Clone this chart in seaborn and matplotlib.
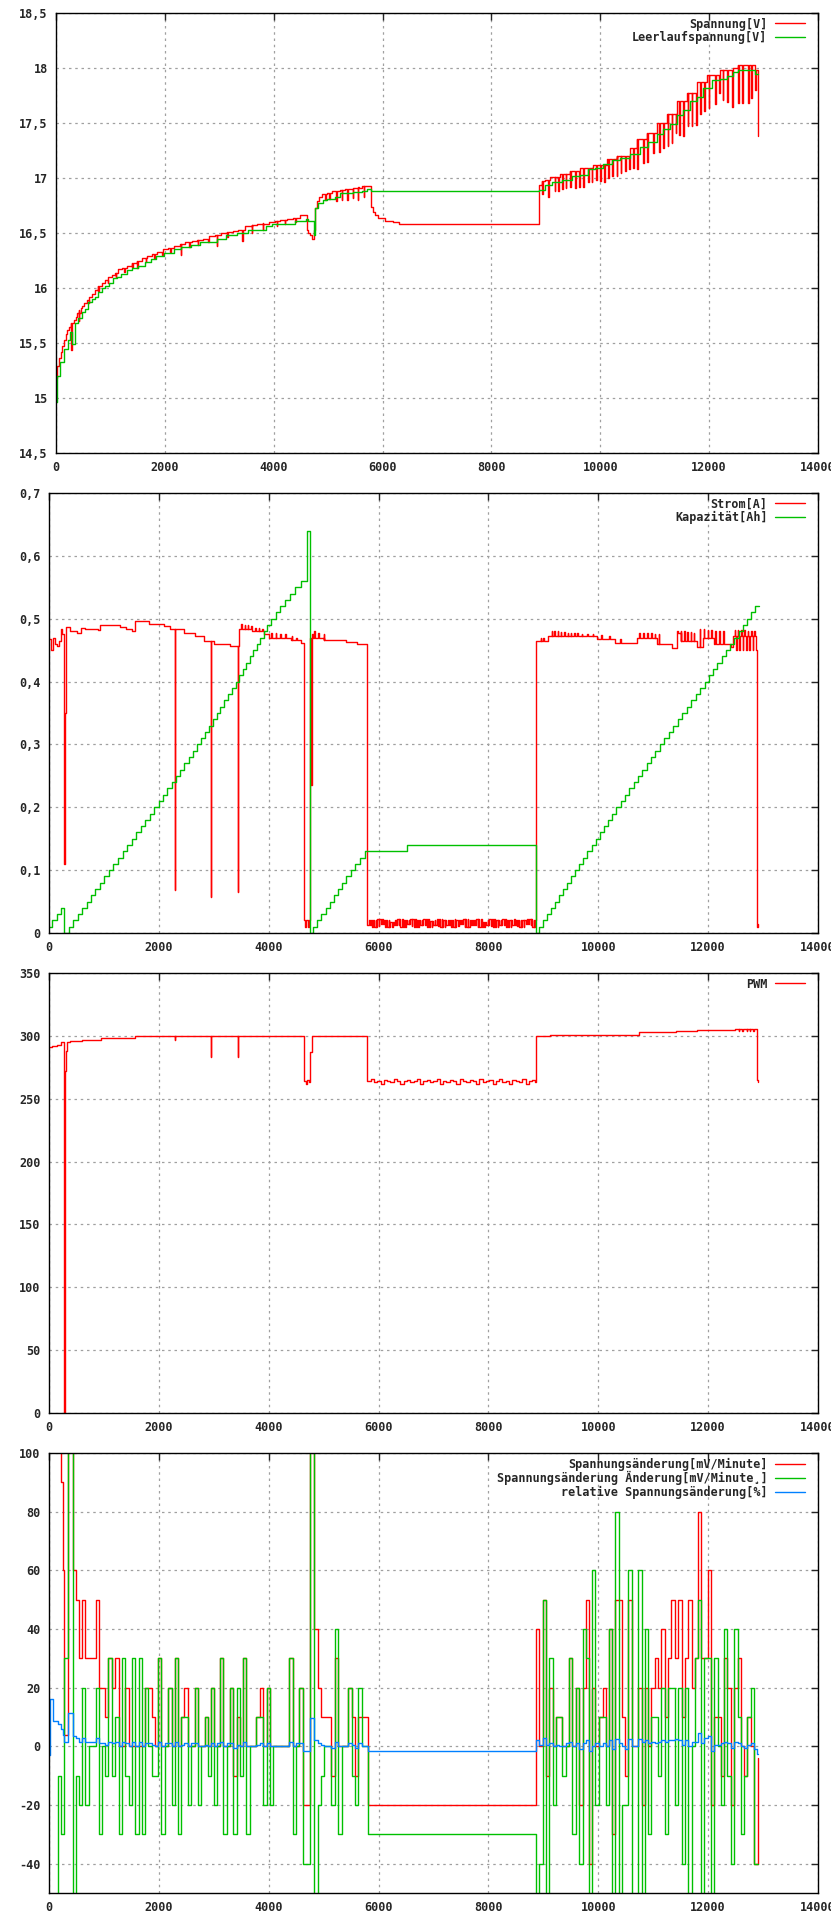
import numpy as np
import seaborn as sns
import matplotlib.pyplot as plt
from matplotlib.ticker import MultipleLocator, FuncFormatter

# ---------------- panel 1: voltage ----------------
volt_x = [0, 25, 55, 86, 117, 147, 178, 208, 239, 270,
          331, 362, 392, 423, 453, 484, 515, 564, 613, 656,
          717, 778, 839, 900, 962, 1023, 1084, 1145, 1207, 1299,
          1390, 1482, 1574, 1666, 1758, 1850, 1972, 2064, 2168, 2278,
          2370, 2493, 2585, 2707, 2817, 2921, 3025, 3136, 3246, 3350,
          3473, 3595, 3687, 3809, 3920, 4024, 4116, 4238, 4361, 4483,
          4618, 4636, 4667, 4697, 4734, 4759, 4789, 4826, 4881, 4973,
          5065, 5218, 5310, 5463, 5555, 5628, 5787, 5818, 5861, 5922,
          6050, 6200, 6300, 8880, 8935, 8984, 9076, 9260, 9444, 9627,
          9872, 10117, 10301, 10546, 10668, 10852, 11036, 11220, 11403, 11587,
          11771, 11954, 12199, 12444, 12536, 12842, 12904]
volt_y = [15.18, 15.29, 15.36, 15.42, 15.47, 15.53, 15.58, 15.62, 15.65, 15.68,
          15.71, 15.74, 15.77, 15.80, 15.82, 15.84, 15.86, 15.89, 15.92, 15.95,
          15.98, 16.02, 16.05, 16.07, 16.10, 16.12, 16.14, 16.17, 16.18, 16.20,
          16.23, 16.25, 16.27, 16.29, 16.31, 16.33, 16.35, 16.36, 16.38, 16.40,
          16.42, 16.43, 16.44, 16.45, 16.47, 16.48, 16.50, 16.51, 16.52, 16.53,
          16.56, 16.57, 16.58, 16.59, 16.60, 16.61, 16.62, 16.63, 16.64, 16.66,
          16.53, 16.50, 16.48, 16.45, 16.53, 16.73, 16.79, 16.83, 16.85, 16.86,
          16.88, 16.89, 16.90, 16.91, 16.915, 16.925, 16.74, 16.69, 16.66, 16.64,
          16.61, 16.60, 16.58, 16.94, 16.97, 16.985, 17.01, 17.04, 17.06, 17.09,
          17.12, 17.17, 17.20, 17.27, 17.35, 17.41, 17.50, 17.58, 17.70, 17.77,
          17.87, 17.94, 17.98, 18.00, 18.03, 17.98, 17.38]
# short downward dips of the loaded voltage
volt_spike_x = [282, 420, 600, 780, 950, 1100, 1250, 1400, 1494, 1650,
                1800, 1950, 2100, 2290, 2450, 2600, 2800, 2952, 3150, 3423,
                3600, 3800, 4054, 4200, 4400, 4950, 5022, 5150, 5250, 5350,
                5450, 5550, 5650,
                8935, 9046, 9162, 9229, 9303, 9364, 9444, 9535, 9615, 9689,
                9780, 9842, 9921, 9995, 10068, 10148, 10221, 10301, 10374, 10454,
                10528, 10607, 10681, 10791, 10864, 10975, 11085, 11158, 11238, 11311,
                11385, 11452, 11526, 11605, 11679, 11759, 11832, 11912, 11991, 12108,
                12181, 12248, 12334, 12426, 12536, 12610, 12720, 12769, 12848]
volt_spike_y = [15.44, 15.70, 15.86, 15.97, 16.05, 16.10, 16.15, 16.19, 16.18, 16.24,
                16.27, 16.30, 16.33, 16.30, 16.37, 16.39, 16.42, 16.385, 16.46, 16.43,
                16.50, 16.53, 16.56, 16.58, 16.60, 16.80, 16.81, 16.79, 16.80, 16.80,
                16.82, 16.80, 16.83,
                16.85, 16.83, 16.88, 16.88, 16.90, 16.91, 16.92, 16.91, 16.92, 16.92,
                16.96, 16.96, 16.98, 16.97, 16.96, 17.00, 17.02, 17.02, 17.05, 17.06,
                17.08, 17.09, 17.08, 17.14, 17.15, 17.23, 17.24, 17.27, 17.29, 17.32,
                17.41, 17.39, 17.38, 17.47, 17.47, 17.48, 17.58, 17.61, 17.64, 17.67,
                17.77, 17.71, 17.69, 17.65, 17.68, 17.68, 17.68, 17.73, 17.80]

ocv_x = [0, 25, 74, 153, 227, 257, 288, 349, 411, 484,
         533, 594, 656, 717, 778, 839, 900, 980, 1054, 1115,
         1194, 1299, 1403, 1513, 1635, 1739, 1837, 1990, 2174, 2297,
         2480, 2646, 2952, 3123, 3319, 3534, 3852, 3962, 4391, 4593,
         4636, 4734, 4765, 4820, 4900, 4985, 5126, 5218, 5463, 5616,
         5708, 5787, 8880, 8984, 9107, 9291, 9474, 9627, 9780, 9903,
         10056, 10209, 10362, 10546, 10730, 10883, 11036, 11158, 11281, 11403,
         11526, 11648, 11771, 11893, 12046, 12199, 12322, 12444, 12536, 12769,
         12848, 12904]
ocv_y = [14.96, 15.20, 15.33, 15.45, 15.53, 15.60, 15.49, 15.68, 15.73, 15.78,
         15.81, 15.87, 15.90, 15.92, 15.96, 16.00, 16.02, 16.05, 16.09, 16.10,
         16.13, 16.16, 16.18, 16.20, 16.24, 16.26, 16.29, 16.32, 16.35, 16.37,
         16.39, 16.42, 16.45, 16.48, 16.50, 16.53, 16.56, 16.58, 16.61, 16.63,
         16.61, 16.48, 16.73, 16.77, 16.80, 16.81, 16.83, 16.86, 16.87, 16.88,
         16.90, 16.885, 16.89, 16.94, 16.96, 16.98, 17.02, 17.03, 17.08, 17.09,
         17.13, 17.16, 17.18, 17.22, 17.28, 17.33, 17.40, 17.45, 17.49, 17.57,
         17.62, 17.70, 17.74, 17.82, 17.89, 17.90, 17.93, 17.96, 17.98, 17.985,
         17.95, 17.95]

# ---------------- panel 2: current / capacity ----------------
cur_x1 = [0, 40, 70, 110, 150, 190, 210, 230, 280, 295,
          310, 379, 515, 588, 650, 900, 923, 1300, 1400, 1512,
          1557, 1829, 2100, 2209, 2463, 2650, 2825, 3006, 3300, 3414,
          3459, 3700, 3912, 4002, 4400, 4591, 4636, 4660, 4685, 4710,
          4730, 4745, 4773, 4785, 4800, 4998, 5406, 5600]
cur_y1 = [0.467, 0.45, 0.47, 0.46, 0.456, 0.464, 0.484, 0.475, 0.11, 0.35,
          0.487, 0.48, 0.477, 0.486, 0.484, 0.482, 0.49, 0.487, 0.483, 0.48,
          0.497, 0.491, 0.489, 0.483, 0.478, 0.472, 0.465, 0.46, 0.457, 0.456,
          0.484, 0.48, 0.475, 0.47, 0.466, 0.462, 0.02, 0.01, 0.02, 0.01,
          0.02, 0.47, 0.235, 0.475, 0.47, 0.466, 0.463, 0.46]
# minute samples while the charger idles (5800..8850 s)
idle_x = [5796, 5856, 5916, 5976, 6036, 6096, 6156, 6216, 6276, 6336, 6396, 6456, 6516,
          6576, 6636, 6696, 6756, 6816, 6876, 6936, 6996, 7056, 7116, 7176, 7236, 7296,
          7356, 7416, 7476, 7536, 7596, 7656, 7716, 7776, 7836, 7896, 7956, 8016, 8076,
          8136, 8196, 8256, 8316, 8376, 8436, 8496, 8556, 8616, 8676, 8736, 8796, 8856]
idle_cur = [0.012, 0.02, 0.01, 0.022, 0.014, 0.02, 0.01, 0.018, 0.012, 0.022, 0.01, 0.02, 0.015,
            0.022, 0.01, 0.02, 0.012, 0.022, 0.01, 0.019, 0.013, 0.022, 0.01, 0.02, 0.012, 0.021,
            0.01, 0.02, 0.014, 0.022, 0.01, 0.02, 0.012, 0.022, 0.01, 0.018, 0.012, 0.022, 0.01,
            0.02, 0.013, 0.022, 0.01, 0.02, 0.012, 0.021, 0.01, 0.02, 0.014, 0.022, 0.01, 0.02]
# half-minute samples in the idle phase (current only)
idle_mid_x = [5826, 5886, 5946, 6006, 6066, 6126, 6186, 6246, 6306, 6366, 6426, 6486, 6546,
              6606, 6666, 6726, 6786, 6846, 6906, 6966, 7026, 7086, 7146, 7206, 7266, 7326,
              7386, 7446, 7506, 7566, 7626, 7686, 7746, 7806, 7866, 7926, 7986, 8046, 8106,
              8166, 8226, 8286, 8346, 8406, 8466, 8526, 8586, 8646, 8706, 8766, 8826]
idle_mid_cur = [0.021, 0.01, 0.02, 0.011, 0.022, 0.01, 0.02, 0.01, 0.021, 0.012, 0.022, 0.01, 0.02,
                0.011, 0.022, 0.01, 0.02, 0.012, 0.022, 0.01, 0.021, 0.011, 0.022, 0.01, 0.02, 0.01,
                0.022, 0.011, 0.02, 0.01, 0.022, 0.012, 0.02, 0.01, 0.022, 0.01, 0.02, 0.011, 0.022,
                0.01, 0.02, 0.012, 0.021, 0.01, 0.022, 0.011, 0.02, 0.01, 0.022, 0.012, 0.021]
cur_x2 = [8875, 9092, 9980, 10300, 10704, 11067, 11338, 11429, 11500, 11791,
          11900, 12100, 12425, 12450, 12878, 12890, 12910]
cur_y2 = [0.464, 0.472, 0.468, 0.462, 0.47, 0.46, 0.453, 0.477, 0.465, 0.455,
          0.47, 0.46, 0.455, 0.473, 0.45, 0.01, 0.015]
cur_spike_x = [2285, 2941, 3433, 3500, 3560, 3620, 3680, 3750, 3820, 3880,
               4050, 4130, 4210, 4300, 4420, 4500, 4830, 4900, 5000,
               8950, 9000, 9150, 9200, 9260, 9320, 9380, 9440, 9500, 9560,
               9620, 9700, 9800, 9900, 10050, 10200, 10400, 10750, 10820, 10890,
               10960, 11030, 11100, 11440, 11500, 11560, 11620, 11680, 11740, 11850,
               11920, 11990, 12060, 12130, 12200, 12270, 12480, 12510, 12540, 12570,
               12600, 12630, 12660, 12690, 12720, 12750, 12780, 12810, 12840]
cur_spike_y = [0.068, 0.058, 0.065, 0.492, 0.49, 0.49, 0.488, 0.486, 0.485, 0.483,
               0.478, 0.478, 0.476, 0.476, 0.472, 0.47, 0.48, 0.478, 0.476,
               0.47, 0.47, 0.48, 0.48, 0.48, 0.479, 0.479, 0.478, 0.478, 0.477,
               0.477, 0.476, 0.476, 0.476, 0.474, 0.472, 0.468, 0.478, 0.478, 0.477,
               0.477, 0.476, 0.475, 0.481, 0.48, 0.48, 0.479, 0.479, 0.478, 0.483,
               0.483, 0.482, 0.482, 0.481, 0.481, 0.48, 0.482, 0.45, 0.482, 0.45,
               0.482, 0.45, 0.482, 0.45, 0.481, 0.45, 0.481, 0.45, 0.48]

cap_x = [0, 48, 154, 222, 280,
         366, 445, 525, 605, 685, 765, 845, 925, 1005, 1090,
         1173, 1256, 1339, 1422, 1505, 1588, 1671, 1754, 1837, 1920,
         1998, 2076, 2154, 2232, 2310, 2388, 2466, 2544, 2622, 2700,
         2770, 2840, 2910, 2980, 3050, 3120, 3190, 3260, 3330, 3400,
         3464, 3528, 3592, 3656, 3720, 3784, 3848, 3912, 3976, 4040,
         4126, 4212, 4298, 4384, 4470, 4590, 4700, 4760,
         4805, 4880, 4960, 5040, 5115, 5190, 5265, 5340, 5415, 5490,
         5570, 5660, 5747, 6519, 8872,
         8920, 8993, 9066, 9139, 9212, 9285, 9358, 9431, 9504, 9577,
         9652, 9727, 9802, 9877, 9952, 10027, 10102, 10177, 10252, 10328,
         10407, 10486, 10565, 10644, 10723, 10802, 10881, 10960, 11039, 11119,
         11201, 11283, 11365, 11447, 11529, 11611, 11693, 11775, 11857, 11938,
         12015, 12092, 12169, 12246, 12323, 12400, 12477, 12554, 12631, 12710,
         12785, 12855, 12920]
cap_y = [0.01, 0.02, 0.03, 0.04, 0.0,
         0.01, 0.02, 0.03, 0.04, 0.05, 0.06, 0.07, 0.08, 0.09, 0.10,
         0.11, 0.12, 0.13, 0.14, 0.15, 0.16, 0.17, 0.18, 0.19, 0.20,
         0.21, 0.22, 0.23, 0.24, 0.25, 0.26, 0.27, 0.28, 0.29, 0.30,
         0.31, 0.32, 0.33, 0.34, 0.35, 0.36, 0.37, 0.38, 0.39, 0.40,
         0.41, 0.42, 0.43, 0.44, 0.45, 0.46, 0.47, 0.48, 0.49, 0.50,
         0.51, 0.52, 0.53, 0.54, 0.55, 0.56, 0.64, 0.0,
         0.01, 0.02, 0.03, 0.04, 0.05, 0.06, 0.07, 0.08, 0.09, 0.10,
         0.11, 0.12, 0.13, 0.14, 0.0,
         0.01, 0.02, 0.03, 0.04, 0.05, 0.06, 0.07, 0.08, 0.09, 0.10,
         0.11, 0.12, 0.13, 0.14, 0.15, 0.16, 0.17, 0.18, 0.19, 0.20,
         0.21, 0.22, 0.23, 0.24, 0.25, 0.26, 0.27, 0.28, 0.29, 0.30,
         0.31, 0.32, 0.33, 0.34, 0.35, 0.36, 0.37, 0.38, 0.39, 0.40,
         0.41, 0.42, 0.43, 0.44, 0.45, 0.46, 0.47, 0.48, 0.49, 0.50,
         0.51, 0.52, 0.52]

# ---------------- panel 3: PWM ----------------
pwm_x1 = [0, 48, 154, 222, 280, 300, 310, 320, 380, 600,
          950, 1560, 3500, 4639, 4670, 4700, 4730, 4755, 4783]
pwm_y1 = [291, 292, 293, 295, 0, 272, 288, 295, 296, 297,
          298, 299.5, 300, 264, 262, 265, 263, 287, 300]
idle_pwm = [264, 265.5, 263, 264, 262, 265, 264, 263, 265.5, 264, 262, 264, 265,
            263, 264, 265.5, 262, 264, 265, 263, 264, 265.5, 262, 264, 263, 265,
            264, 262, 265.5, 264, 263, 265, 264, 262, 265.5, 263, 264, 265, 262,
            264, 265.5, 263, 264, 262, 265, 264, 263, 265.5, 262, 264, 265, 263]
pwm_x2 = [8872, 9113, 10733, 11408, 11794, 12498, 12883, 12900]
pwm_y2 = [300, 301, 303, 304, 305, 305.5, 265, 263]
pwm_spike_x = [2285, 2941, 3433, 12560, 12620, 12700, 12760, 12820]
pwm_spike_y = [296.5, 283, 283, 304, 304, 304, 304, 304]

# ---------------- panel 4: voltage change ----------------
d_x = [0, 24, 73, 158, 212, 261, 279, 352, 431, 486,
       540, 595, 662, 722, 850, 904, 959, 1026, 1080, 1141,
       1196, 1269, 1323, 1378, 1451, 1505, 1560, 1633, 1687, 1742,
       1797, 1870, 1924, 1979, 2046, 2106, 2161, 2234, 2288, 2343,
       2398, 2453, 2525, 2580, 2653, 2707, 2762, 2835, 2889, 2944,
       2999, 3065, 3119, 3174, 3247, 3301, 3356, 3429, 3483, 3538,
       3593, 3665, 3775, 3842, 3902, 3963, 4030, 4084, 4376, 4449,
       4503, 4558, 4631, 4758, 4831, 4904, 4958, 5013, 5140, 5201,
       5256, 5329, 5438, 5511, 5565, 5620, 5693, 5802,
       8866, 8921, 9000, 9054, 9109, 9182, 9236, 9291, 9345, 9419,
       9473, 9528, 9601, 9655, 9716, 9771, 9825, 9880, 9935, 10007,
       10080, 10135, 10189, 10250, 10305, 10378, 10432, 10487, 10541, 10614,
       10724, 10803, 10857, 10912, 10967, 11039, 11094, 11149, 11221, 11276,
       11329, 11390, 11445, 11517, 11572, 11627, 11700, 11754, 11821, 11876,
       11930, 12003, 12058, 12112, 12185, 12240, 12294, 12349, 12422, 12477,
       12549, 12604, 12659, 12713, 12786, 12841, 12895, 12913]
d_red = [120, 120, 120, 120, 90, 60, 4, 120, 60, 50,
         30, 50, 30, 30, 50, 20, 20, 10, 30, 20,
         30, 0, 0, 20, 0, 0, 0, 0, 0, 20,
         20, 10, 0, 30, 0, 0, 20, 0, 30, 0,
         10, 20, 0, 0, 20, 0, 0, 10, 0, 20,
         0, 0, 30, 0, 0, 20, -10, 10, 0, 30,
         0, 0, 10, 20, 0, 20, 0, 0, 30, 0,
         0, 20, -20, 120, 40, 20, 10, 10, -10, 30,
         0, 0, 20, 10, -10, 10, 10, -20,
         40, 0, 50, -10, 20, 0, 10, 10, 0, 0,
         30, 0, 20, -20, 20, 50, -40, 20, 0, 10,
         20, 0, 40, -30, 50, 50, 10, -10, 50, 0,
         20, -20, 20, 0, 20, 30, 20, 40, 10, 30,
         50, 30, 50, 10, 30, 50, 20, 30, 80, 30,
         30, 60, -20, 10, 10, -10, 30, 20, -20, 20,
         30, 0, -10, 10, 0, -40, -40, -4]
d_green = [-60, -60, -60, -10, -30, -30, 30, 120, -60, -10,
           -20, 20, -20, 0, 20, -30, 0, -10, 30, -10,
           10, -30, 30, -10, -20, 30, -30, 30, -30, 20,
           0, -10, -10, 30, -30, 0, 20, -20, 30, -30,
           10, 10, -20, 0, 20, -20, 0, 10, -10, 20,
           -20, 0, 30, -30, 0, 20, -30, 20, -10, 30,
           -30, 0, 10, 10, -20, 20, -20, 0, 30, -30,
           0, 20, -40, 120, -60, -20, -10, 0, -20, 40,
           -30, 0, 20, -10, -20, 20, 0, -30,
           -60, -40, 50, -60, 30, -20, 10, 10, -10, 0,
           30, -30, 20, -40, 40, 30, -60, 60, -20, 10,
           10, -20, 40, -60, 80, -60, -20, -20, 60, -60,
           60, -60, 40, -30, 10, 10, -10, 20, -30, 20,
           20, -20, 20, -40, 20, -60, 0, 30, 50, -60,
           30, 30, -60, 30, 0, -20, 40, -10, -40, 40,
           10, -30, -10, 10, 20, -40, -40, -40]
d_blue = [-3, 16, 8.5, 7.5, 6, 4, 1.5, 11.5, 3.5, 3,
          1.5, 3, 1.5, 1.5, 3, 1, 1, 0.5, 1.5, 1,
          1.5, 0, 1.5, 1, 0, 1.5, 0, 1.5, 0, 1,
          1, 0.5, 0, 1.5, 0, 1, 1, 0, 1.5, 0,
          0.5, 1, 0, 1, 1, 0, 0, 0.5, 0, 1,
          0, 1, 1.5, 0, 1, 1, -0.5, 0.5, 0, 1.5,
          0, 0, 0.5, 1, 0, 1, 0, 0, 1.5, 0,
          1, 1, -1.5, 9.5, 2, 1, 0.5, 0, -0.5, 1.5,
          0, 0, 1, 0.5, -0.5, 1, 0, -1.5,
          2, 0.5, 3, 0.5, 1, 0, 0.5, 0, 0, 1,
          1.5, 0, 1, -1, 1, 2, -1.5, 0, 1, 0,
          1, 0, 2, -1, 2.5, 1, 0, -1, 2.5, 0,
          2.5, 1.5, 2, 1, 1.5, 1, 1.5, 2, 1.5, 2,
          2, 2.5, 2, 0.5, 2, 0, 1.5, 1.5, 4.5, 1,
          3, 3.5, -1.5, 0.5, 0.5, 1, 1.5, 1, -0.5, 1.5,
          1, 0, -0.5, 0.5, 1, -1, -2.5, -2.5]

assert len(volt_x) == len(volt_y) and len(ocv_x) == len(ocv_y)
assert len(volt_spike_x) == len(volt_spike_y) and len(cur_spike_x) == len(cur_spike_y)
assert len(cur_x1) == len(cur_y1) and len(cur_x2) == len(cur_y2)
assert len(idle_x) == len(idle_cur) == len(idle_pwm)
assert len(idle_mid_x) == len(idle_mid_cur)
assert len(cap_x) == len(cap_y) and len(pwm_x1) == len(pwm_y1)
assert len(d_x) == len(d_red) == len(d_green) == len(d_blue)

RED = '#ff0000'
GREEN = '#00c000'
BLUE = '#0080ff'

sns.set_style('white')
plt.rcParams['font.family'] = ['DejaVu Sans Mono']
plt.rcParams['font.weight'] = 'bold'
plt.rcParams['font.size'] = 8.5


def add_spikes(xs, ys, sx, sy, width=10):
    # put short excursions on a step series
    base = np.asarray(xs)
    pts = list(zip(xs, ys))
    for x, y in zip(sx, sy):
        i = np.searchsorted(base, x, side='right') - 1
        pts.append((x, y))
        pts.append((x + width, ys[i]))
    pts.sort(key=lambda p: p[0])
    return [p[0] for p in pts], [p[1] for p in pts]


def step_line(ax, x, y, color, label):
    sns.lineplot(x=x, y=y, ax=ax, color=color, label=label, estimator=None,
                 sort=False, drawstyle='steps-post', linewidth=1.0)


def comma(v, pos):
    return ('%g' % round(v, 4)).replace('.', ',')


def style(ax, ylim, ystep):
    ax.set_xlim(0, 14000)
    ax.set_ylim(*ylim)
    ax.xaxis.set_major_locator(MultipleLocator(2000))
    ax.yaxis.set_major_locator(MultipleLocator(ystep))
    ax.yaxis.set_major_formatter(FuncFormatter(comma))
    ax.grid(True, color='#a0a0a0', linestyle=(0, (2, 3)), linewidth=0.9)
    ax.tick_params(direction='in', top=True, right=True, length=5, width=1,
                   labelsize=8.5, pad=6)
    for s in ax.spines.values():
        s.set_color('black')
        s.set_linewidth(1)
    ax.set_xlabel('')
    ax.set_ylabel('')
    w = ax.get_position().width * 831
    ax.legend(loc='upper right', bbox_to_anchor=(1 - 2 / w, 1 + 6 / 440),
              frameon=False, markerfirst=False,
              handlelength=2.6, handletextpad=0.6, borderaxespad=0.5,
              borderpad=0.4, labelspacing=0.03, fontsize=8.5)


fig = plt.figure(figsize=(8.31, 19.2), dpi=100)
ax1 = fig.add_axes([56 / 831, 1 - 453 / 1920, 762 / 831, 440 / 1920])
ax2 = fig.add_axes([49 / 831, 1 - 933 / 1920, 769 / 831, 440 / 1920])
ax3 = fig.add_axes([49 / 831, 1 - 1413 / 1920, 769 / 831, 440 / 1920])
ax4 = fig.add_axes([49 / 831, 1 - 1893 / 1920, 769 / 831, 440 / 1920])

# panel 1
vx, vy = add_spikes(volt_x, volt_y, volt_spike_x, volt_spike_y)
step_line(ax1, vx, vy, RED, 'Spannung[V]')
step_line(ax1, ocv_x, ocv_y, GREEN, 'Leerlaufspannung[V]')
style(ax1, (14.5, 18.5), 0.5)

# panel 2
cx, cy = add_spikes(cur_x1 + idle_x + cur_x2, cur_y1 + idle_cur + cur_y2,
                    cur_spike_x + idle_mid_x, cur_spike_y + idle_mid_cur)
step_line(ax2, cx, cy, RED, 'Strom[A]')
step_line(ax2, cap_x, cap_y, GREEN, 'Kapazität[Ah]')
style(ax2, (0, 0.7), 0.1)

# panel 3
px, py = add_spikes(pwm_x1 + idle_x + pwm_x2, pwm_y1 + idle_pwm + pwm_y2,
                    pwm_spike_x, pwm_spike_y)
step_line(ax3, px, py, RED, 'PWM')
style(ax3, (0, 350), 50)

# panel 4
step_line(ax4, d_x, d_red, RED, 'Spannungsänderung[mV/Minute]')
step_line(ax4, d_x, d_green, GREEN, 'Spannungsänderung Änderung[mV/Minute¸]')
step_line(ax4, d_x, d_blue, BLUE, 'relative Spannungsänderung[%]')
style(ax4, (-50, 100), 20)

fig.savefig('out.png', dpi=100)
